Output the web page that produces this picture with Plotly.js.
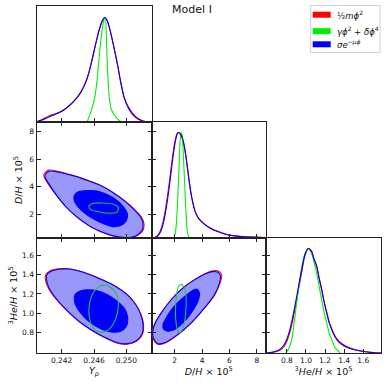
<!DOCTYPE html>
<html>
<head>
<meta charset="utf-8">
<script src="https://cdn.plot.ly/plotly-3.0.1.min.js"></script>
<style>html,body{margin:0;padding:0;background:#fff;}#chart{width:387px;height:388px;}</style>
</head>
<body>
<div id="chart"></div>
<script>
// ---------------- DATA ----------------
const modelNames = ['½<i>mϕ</i><sup>2</sup>', '<i>γϕ</i><sup>2</sup> + <i>δϕ</i><sup>4</sup>', '<i>σe</i><sup>−<i>μϕ</i></sup>'];
const ypTicks = [0.242, 0.246, 0.250];
const dTicks = [2, 4, 6, 8];
const heTicks = [0.8, 1.0, 1.2, 1.4, 1.6];

// 1D marginal: Yp
const ypGrid = [0.23878,0.23961,0.24043,0.24126,0.24208,0.24291,0.24373,0.24435,0.24497,0.24538,0.24579,0.24621,0.24662,0.24703,0.24732,0.24765,0.24806,0.24847,0.24889,0.24930,0.24971,0.25033,0.25116,0.25198,0.25280];
const ypRedP  = [0,0.024,0.058,0.080,0.108,0.155,0.220,0.285,0.383,0.480,0.610,0.752,0.878,0.970,1.0,0.965,0.852,0.710,0.556,0.385,0.243,0.133,0.050,0.013,0];
const ypBlueP = [0,0.019,0.048,0.073,0.105,0.153,0.217,0.281,0.377,0.473,0.601,0.744,0.872,0.968,1.0,0.968,0.856,0.712,0.553,0.377,0.233,0.121,0.042,0.010,0];
const ypGreenX = [0.24515,0.24569,0.24610,0.24638,0.24672,0.24705,0.24725,0.24740,0.24752,0.24762,0.24775,0.24790,0.24815,0.24850,0.24890,0.24935];
const ypGreenP = [0,0.114,0.24,0.40,0.684,0.907,0.984,1.0,0.85,0.60,0.38,0.22,0.12,0.07,0.03,0];

// 1D marginal: D/H
const dGrid = [0.34,0.60,0.85,1.05,1.25,1.45,1.63,1.80,1.95,2.08,2.19,2.29,2.41,2.54,2.67,2.78,2.96,3.14,3.32,3.50,3.72,3.99,4.38,4.83,5.32,5.93,6.78,7.99,8.67];
const dRedP  = [0,0.008,0.04,0.10,0.21,0.37,0.54,0.72,0.86,0.95,0.99,1.0,0.985,0.95,0.89,0.81,0.64,0.465,0.34,0.25,0.195,0.155,0.112,0.08,0.056,0.03,0.016,0.008,0.003];
const dBlueP = [0,0.005,0.03,0.08,0.18,0.33,0.50,0.68,0.83,0.93,0.985,1.0,0.99,0.96,0.90,0.82,0.65,0.47,0.34,0.25,0.19,0.15,0.11,0.076,0.052,0.028,0.014,0.007,0.002];
const dGreenX = [1.95,2.05,2.14,2.24,2.34,2.41,2.49,2.56,2.63,2.73,2.83,2.92,3.02,3.12];
const dGreenP = [0,0.041,0.151,0.404,0.719,0.93,1.0,0.971,0.814,0.530,0.246,0.073,0.016,0];

// 1D marginal: 3He/H
const heGrid = [0.579,0.621,0.674,0.726,0.769,0.800,0.832,0.863,0.902,0.926,0.955,0.979,1.000,1.024,1.042,1.060,1.084,1.113,1.137,1.165,1.190,1.218,1.242,1.271,1.305,1.340,1.379,1.428,1.495,1.568,1.708,1.79];
const heRedP  = [0,0.003,0.010,0.025,0.060,0.112,0.200,0.320,0.505,0.630,0.770,0.893,0.962,1.0,0.992,0.972,0.903,0.830,0.722,0.610,0.495,0.388,0.300,0.230,0.163,0.118,0.088,0.062,0.039,0.022,0.004,0];
const heBlueP = [0,0.005,0.014,0.033,0.076,0.134,0.229,0.353,0.538,0.659,0.793,0.907,0.968,1.0,0.989,0.968,0.898,0.824,0.716,0.602,0.487,0.379,0.291,0.220,0.153,0.108,0.079,0.054,0.033,0.019,0.003,0];
const heGreenX = [0.790,0.816,0.850,0.884,0.919,0.955,0.990,1.024,1.060,1.084,1.113,1.137,1.165,1.190,1.218,1.242,1.271,1.295,1.324,1.358];
const heGreenP = [0,0.038,0.124,0.347,0.602,0.824,0.952,1.0,0.952,0.869,0.761,0.640,0.506,0.392,0.284,0.196,0.124,0.067,0.029,0];

// 2D contours: Yp vs D/H
const ypD_red95_x = [0.23980,0.24035,0.24160,0.24330,0.24497,0.24662,0.24827,0.24975,0.25102,0.25188,0.25218,0.25200,0.25140,0.25054,0.24951,0.24827,0.24683,0.24538,0.24394,0.24245,0.24118,0.24030,0.23988];
const ypD_red95_y = [4.88,5.20,5.10,4.84,4.52,4.15,3.62,3.02,2.37,1.81,1.31,0.82,0.52,0.36,0.36,0.48,0.77,1.20,1.82,2.62,3.52,4.25,4.66];
const ypD_red68_x = [0.24390,0.24538,0.24662,0.24830,0.24955,0.25015,0.25003,0.24930,0.24827,0.24700,0.24555,0.24430,0.24360,0.24348];
const ypD_red68_y = [3.63,3.75,3.67,3.25,2.65,2.05,1.56,1.20,1.13,1.37,1.81,2.37,2.91,3.34];
const ypD_blue95_x = [0.23994,0.24043,0.24167,0.24332,0.24497,0.24662,0.24827,0.24971,0.25095,0.25177,0.25206,0.25190,0.25136,0.25054,0.24951,0.24827,0.24683,0.24538,0.24394,0.24249,0.24126,0.24043,0.24002];
const ypD_blue95_y = [4.81,5.12,5.05,4.81,4.50,4.14,3.61,3.01,2.36,1.81,1.33,0.85,0.54,0.37,0.37,0.49,0.78,1.21,1.81,2.60,3.49,4.21,4.62];
const ypD_blue68_x = [0.24394,0.24538,0.24662,0.24827,0.24951,0.25012,0.25000,0.24930,0.24827,0.24703,0.24559,0.24435,0.24365,0.24353];
const ypD_blue68_y = [3.61,3.73,3.66,3.25,2.65,2.05,1.57,1.21,1.14,1.38,1.81,2.36,2.89,3.32];
const ypD_green68_x = [0.24546,0.24600,0.24703,0.24827,0.24901,0.24889,0.24847,0.24744,0.24641,0.24559,0.24538];
const ypD_green68_y = [2.70,2.82,2.84,2.77,2.53,2.22,2.12,2.12,2.22,2.36,2.53];

// 2D contours: Yp vs 3He/H
const ypHe_red95_x = [0.24000,0.24055,0.24160,0.24291,0.24414,0.24559,0.24703,0.24868,0.25012,0.25116,0.25180,0.25212,0.25196,0.25120,0.25012,0.24889,0.24744,0.24579,0.24414,0.24265,0.24138,0.24052,0.24008];
const ypHe_red95_y = [1.395,1.440,1.462,1.464,1.443,1.400,1.348,1.279,1.192,1.088,0.984,0.878,0.772,0.700,0.672,0.684,0.738,0.815,0.912,1.024,1.140,1.236,1.318];
const ypHe_red68_x = [0.24362,0.24412,0.24518,0.24643,0.24768,0.24892,0.24987,0.25020,0.25002,0.24930,0.24827,0.24700,0.24556,0.24432,0.24362];
const ypHe_red68_y = [1.193,1.228,1.245,1.234,1.191,1.121,1.035,0.948,0.860,0.808,0.798,0.827,0.897,1.002,1.107];
const ypHe_blue95_x = [0.24014,0.24064,0.24167,0.24291,0.24414,0.24559,0.24703,0.24868,0.25012,0.25116,0.25177,0.25206,0.25190,0.25116,0.25012,0.24889,0.24744,0.24579,0.24414,0.24270,0.24146,0.24064,0.24023];
const ypHe_blue95_y = [1.392,1.434,1.458,1.461,1.441,1.399,1.347,1.278,1.191,1.087,0.984,0.880,0.776,0.707,0.679,0.689,0.741,0.817,0.914,1.025,1.139,1.233,1.313];
const ypHe_blue68_x = [0.24365,0.24414,0.24518,0.24641,0.24765,0.24889,0.24984,0.25017,0.25000,0.24930,0.24827,0.24703,0.24559,0.24435,0.24365];
const ypHe_blue68_y = [1.191,1.226,1.243,1.233,1.191,1.122,1.036,0.949,0.862,0.810,0.800,0.828,0.897,1.001,1.105];
const ypHe_green68_x = [0.24724,0.24806,0.24868,0.24901,0.24889,0.24847,0.24786,0.24703,0.24621,0.24567,0.24538,0.24546,0.24588,0.24654];
const ypHe_green68_y = [1.295,1.268,1.209,1.122,1.001,0.897,0.828,0.800,0.817,0.880,0.984,1.105,1.209,1.271];

// 2D contours: D/H vs 3He/H
const dHe_red95_x = [0.770,1.274,2.242,3.210,4.178,4.930,5.320,5.430,5.230,4.800,4.178,3.452,2.605,1.758,1.032,0.530,0.380,0.470];
const dHe_red95_y = [0.672,0.683,0.772,0.894,1.050,1.190,1.315,1.398,1.437,1.442,1.410,1.349,1.262,1.140,1.002,0.880,0.792,0.720];
const dHe_red68_x = [1.215,1.140,1.385,1.875,2.610,3.225,3.665,3.835,3.710,3.215,2.600,1.990,1.505];
const dHe_red68_y = [0.826,0.879,0.949,1.054,1.159,1.228,1.252,1.210,1.121,0.999,0.895,0.826,0.808];
const dHe_blue95_x = [0.790,1.274,2.242,3.210,4.178,4.903,5.266,5.339,5.145,4.782,4.178,3.452,2.605,1.758,1.032,0.548,0.403,0.500];
const dHe_blue95_y = [0.679,0.689,0.776,0.897,1.053,1.191,1.313,1.392,1.427,1.434,1.406,1.347,1.261,1.139,1.001,0.880,0.793,0.724];
const dHe_blue68_x = [1.226,1.153,1.395,1.879,2.605,3.210,3.645,3.815,3.694,3.210,2.605,2.000,1.516];
const dHe_blue68_y = [0.828,0.880,0.949,1.053,1.157,1.226,1.250,1.209,1.122,1.001,0.897,0.828,0.810];
const dHe_green68_x = [2.484,2.726,2.847,2.798,2.653,2.436,2.242,2.097,2.073,2.145,2.290];
const dHe_green68_y = [1.302,1.261,1.139,0.984,0.862,0.793,0.810,0.914,1.053,1.191,1.278];

// ---------------- STYLE ----------------
const RED = '#ff0000', GREEN = '#00ee00', BLUE = '#0000ff';
const GREEN_CONT = '#22c040';
const BLUE_OUT = 'rgb(152,152,248)';
const FONT = 'DejaVu Sans';

function close(a){ return a.concat([a[0]]); }
function line1d(x, y, color, xa, ya){
  return {x:x, y:y, xaxis:xa, yaxis:ya, type:'scatter', mode:'lines', line:{color:color, width:1.1, shape:'spline', smoothing:0.6}, hoverinfo:'skip'};
}
function contour(x, y, xa, ya, lineColor, fillColor){
  const t = {x:close(x), y:close(y), xaxis:xa, yaxis:ya, type:'scatter', mode:'lines',
    line:{color:lineColor, width:1.1, shape:'spline', smoothing:0.8}, hoverinfo:'skip'};
  if (fillColor){ t.fill = 'toself'; t.fillcolor = fillColor; }
  return t;
}

const traces = [
  line1d(ypGrid, ypRedP, RED, 'x', 'y'),
  line1d(ypGreenX, ypGreenP, GREEN, 'x', 'y'),
  line1d(ypGrid, ypBlueP, BLUE, 'x', 'y'),
  contour(ypD_red95_x, ypD_red95_y, 'x2', 'y2', RED, null),
  contour(ypD_red68_x, ypD_red68_y, 'x2', 'y2', RED, null),
  contour(ypD_blue95_x, ypD_blue95_y, 'x2', 'y2', BLUE, BLUE_OUT),
  contour(ypD_blue68_x, ypD_blue68_y, 'x2', 'y2', BLUE, BLUE),
  contour(ypD_green68_x, ypD_green68_y, 'x2', 'y2', GREEN_CONT, null),
  contour(ypHe_red95_x, ypHe_red95_y, 'x3', 'y3', RED, null),
  contour(ypHe_red68_x, ypHe_red68_y, 'x3', 'y3', RED, null),
  contour(ypHe_blue95_x, ypHe_blue95_y, 'x3', 'y3', BLUE, BLUE_OUT),
  contour(ypHe_blue68_x, ypHe_blue68_y, 'x3', 'y3', BLUE, BLUE),
  contour(ypHe_green68_x, ypHe_green68_y, 'x3', 'y3', GREEN_CONT, null),
  line1d(dGrid, dRedP, RED, 'x4', 'y4'),
  line1d(dGreenX, dGreenP, GREEN, 'x4', 'y4'),
  line1d(dGrid, dBlueP, BLUE, 'x4', 'y4'),
  contour(dHe_red95_x, dHe_red95_y, 'x5', 'y5', RED, null),
  contour(dHe_red68_x, dHe_red68_y, 'x5', 'y5', RED, null),
  contour(dHe_blue95_x, dHe_blue95_y, 'x5', 'y5', BLUE, BLUE_OUT),
  contour(dHe_blue68_x, dHe_blue68_y, 'x5', 'y5', BLUE, BLUE),
  contour(dHe_green68_x, dHe_green68_y, 'x5', 'y5', GREEN_CONT, null),
  line1d(heGrid, heRedP, RED, 'x6', 'y6'),
  line1d(heGreenX, heGreenP, GREEN, 'x6', 'y6'),
  line1d(heGrid, heBlueP, BLUE, 'x6', 'y6'),
  {x:[], y:[], xaxis:'x4', yaxis:'y7', type:'scatter', mode:'lines', hoverinfo:'skip'},
  {x:[], y:[], xaxis:'x6', yaxis:'y8', type:'scatter', mode:'lines', hoverinfo:'skip'}
];

// ---------------- LAYOUT ----------------
const W = 387, H = 388;
const c1 = [36.5/W, 151.5/W], c2 = [151.5/W, 266/W], c3 = [266/W, 381/W];
const r1 = [1-122/H, 1-6/H], r2 = [1-238/H, 1-122/H], r3 = [1-353/H, 1-238/H];
const ypRange = [0.2389, 0.2531], dRange = [0.32, 8.66], heRange = [0.581, 1.786];

const base = {showgrid:false, zeroline:false, linecolor:'#222', linewidth:1, ticks:'inside', ticklen:4, tickwidth:1, tickcolor:'#222',
  tickfont:{family:FONT, size:7.5, color:'#111'}, fixedrange:true};
function ax(o){ return Object.assign({}, base, o); }
const titleFont = {family:FONT, size:9.5, color:'#111'};

const layout = {
  width:W, height:H, margin:{l:0, r:0, t:0, b:0}, paper_bgcolor:'#fff', plot_bgcolor:'#fff', showlegend:false,
  font:{family:FONT},
  title:{text:'Model I', x:192/W, y:1-9/H, xanchor:'center', yanchor:'middle', font:{family:FONT, size:11, color:'#111'}},
  xaxis:  ax({domain:c1, anchor:'y',  range:ypRange, tickvals:ypTicks, showticklabels:false, mirror:true}),
  yaxis:  ax({domain:r1, anchor:'x',  range:[0,1.11], ticks:'', showticklabels:false, mirror:true}),
  xaxis2: ax({domain:c1, anchor:'y2', range:ypRange, tickvals:ypTicks, showticklabels:false, mirror:'ticks'}),
  yaxis2: ax({domain:r2, anchor:'x2', range:dRange, tickvals:dTicks, mirror:'ticks',
              title:{text:'<i>D</i>/<i>H</i> × 10<sup>5</sup>', font:titleFont, standoff:4}}),
  xaxis3: ax({domain:c1, anchor:'y3', range:ypRange, tickvals:ypTicks, tickformat:'.3f', mirror:'ticks',
              title:{text:'<i>Y<sub>p</sub></i>', font:titleFont, standoff:2}}),
  yaxis3: ax({domain:r3, anchor:'x3', range:heRange, tickvals:heTicks, tickformat:'.1f', mirror:'ticks',
              title:{text:'<sup>3</sup><i>He</i>/<i>H</i> × 10<sup>5</sup>', font:titleFont, standoff:2}}),
  xaxis4: ax({domain:c2, anchor:'y4', range:dRange, tickvals:dTicks, showticklabels:false, mirror:true}),
  yaxis4: ax({domain:r2, anchor:'x4', range:[0,1.1], ticks:'', showticklabels:false, mirror:true}),
  yaxis7: ax({overlaying:'y4', anchor:'x4', side:'left', range:dRange, tickvals:dTicks, showticklabels:false, showline:false}),
  xaxis5: ax({domain:c2, anchor:'y5', range:dRange, tickvals:dTicks, mirror:'ticks',
              title:{text:'<i>D</i>/<i>H</i> × 10<sup>5</sup>', font:titleFont, standoff:2}}),
  yaxis5: ax({domain:r3, anchor:'x5', range:heRange, tickvals:heTicks, showticklabels:false, mirror:'ticks'}),
  xaxis6: ax({domain:c3, anchor:'y6', range:heRange, tickvals:heTicks, tickformat:'.1f', mirror:true,
              title:{text:'<sup>3</sup><i>He</i>/<i>H</i> × 10<sup>5</sup>', font:titleFont, standoff:2}}),
  yaxis6: ax({domain:r3, anchor:'x6', range:[0,1.1], ticks:'', showticklabels:false, mirror:true}),
  yaxis8: ax({overlaying:'y6', anchor:'x6', side:'left', range:heRange, tickvals:heTicks, showticklabels:false, showline:false}),
  shapes:[], annotations:[]
};

// legend box (manual)
const legColors = [RED, GREEN, BLUE];
const legY = [14.7, 31.2, 44.3];
layout.shapes.push({type:'rect', xref:'paper', yref:'paper', x0:310.7/W, x1:380/W, y0:1-52.5/H, y1:1-5.5/H,
  line:{color:'#d0d0d0', width:1}, fillcolor:'rgba(255,255,255,0.9)'});
legColors.forEach((c, i) => {
  layout.shapes.push({type:'rect', xref:'paper', yref:'paper', x0:312.7/W, x1:330.7/W, y0:1-(legY[i]+3)/H, y1:1-(legY[i]-3)/H,
    line:{width:0}, fillcolor:c});
  layout.annotations.push({xref:'paper', yref:'paper', x:335/W, y:1-legY[i]/H, xanchor:'left', yanchor:'middle',
    text:modelNames[i], showarrow:false, font:{family:FONT, size:8.5, color:'#111'}});
});

Plotly.newPlot('chart', traces, layout, {staticPlot:true, displayModeBar:false});
</script>
</body>
</html>
